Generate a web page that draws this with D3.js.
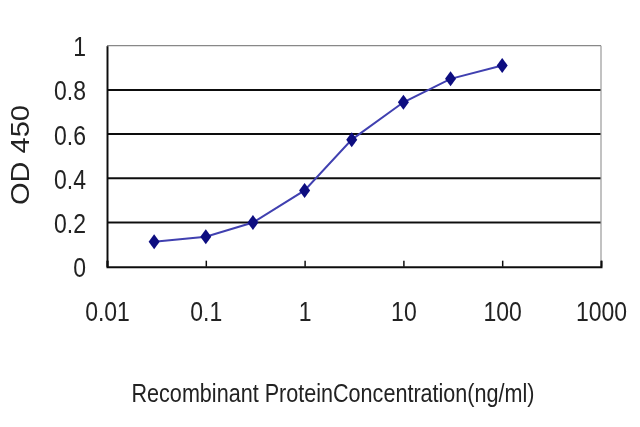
<!DOCTYPE html>
<head>
    <meta charset="utf-8">
    <script src="https://d3js.org/d3.v7.min.js"></script>
    <style>
        html, body { padding: 0; margin: 0; background: #fff; }
        svg { display: block; }
        text { font-family: "Liberation Sans", Arial, sans-serif; fill: #222; }
    </style>
</head>

<body>
<svg width="640" height="427"></svg>
<script>
    // data
    var concentrations = [0.03, 0.1, 0.3, 1, 3, 10, 30, 100];
    var odValues = [0.113, 0.136, 0.2, 0.345, 0.575, 0.744, 0.85, 0.91];
    var xTicks = [0.01, 0.1, 1, 10, 100, 1000];
    var xTickLabels = ["0.01", "0.1", "1", "10", "100", "1000"];
    var yTicks = [0, 0.2, 0.4, 0.6, 0.8, 1];
    var yTickLabels = ["0", "0.2", "0.4", "0.6", "0.8", "1"];

    var svg = d3.select("svg");

    // the scan is a little soft, so blur everything slightly
    svg.append("defs").append("filter")
        .attr("id", "soft")
        .append("feGaussianBlur")
        .attr("stdDeviation", 0.45);

    var g = svg.append("g").attr("filter", "url(#soft)");

    var x = d3.scaleLog()
        .domain([0.01, 1000])
        .range([107, 601]);

    var y = d3.scaleLinear()
        .domain([0, 1])
        .range([266.7, 45.7]);

    // horizontal gridlines
    g.append("g")
        .selectAll("line")
        .data(yTicks.slice(1))
        .enter()
        .append("line")
        .attr("x1", x(0.01))
        .attr("x2", x(1000))
        .attr("y1", function(d) { return y(d); })
        .attr("y2", function(d) { return y(d); })
        .attr("stroke", function(d) { return d === 1 ? "#888" : "#111"; })
        .attr("stroke-width", function(d) { return d === 1 ? 1.2 : 2; });

    // right border
    g.append("line")
        .attr("x1", x(1000)).attr("x2", x(1000))
        .attr("y1", y(1)).attr("y2", y(0))
        .attr("stroke", "#999")
        .attr("stroke-width", 1.2);

    // x axis
    var xAxis = d3.axisBottom(x)
        .tickValues(xTicks)
        .tickSize(-6)
        .tickFormat(function(d, i) { return xTickLabels[i]; });

    g.append("g")
        .attr("transform", "translate(0," + y(0) + ")")
        .call(xAxis)
        .call(function(a) {
            a.select(".domain").attr("stroke", "#111").attr("stroke-width", 2);
            a.selectAll(".tick line").attr("stroke", "#111").attr("stroke-width", 1.5);
            a.selectAll(".tick text")
                .attr("font-size", 23)
                .attr("y", 0)
                .attr("dy", "0.36em")
                .attr("transform", "translate(0,44.5) scale(1,1.2)")
                .style("font-family", "'Liberation Sans', Arial, sans-serif")
                .attr("fill", "#222");
        });

    // y axis
    var yAxis = d3.axisLeft(y)
        .tickValues(yTicks)
        .tickSize(0)
        .tickFormat(function(d, i) { return yTickLabels[i]; })
        .tickPadding(21);

    g.append("g")
        .attr("transform", "translate(" + x(0.01) + ",0)")
        .call(yAxis)
        .call(function(a) {
            a.select(".domain").attr("stroke", "#111").attr("stroke-width", 2);
            a.selectAll(".tick text")
                .attr("font-size", 23)
                .attr("dy", "0.36em")
                .attr("transform", "scale(1,1.2)")
                .style("font-family", "'Liberation Sans', Arial, sans-serif")
                .attr("fill", "#222");
        });

    // axis titles
    g.append("text")
        .attr("transform", "translate(29,155) rotate(-90)")
        .attr("text-anchor", "middle")
        .attr("font-size", 26)
        .attr("textLength", 100)
        .attr("lengthAdjust", "spacingAndGlyphs")
        .text("OD 450");

    g.append("text")
        .attr("transform", "translate(333,402) scale(1,1.2)")
        .attr("text-anchor", "middle")
        .attr("font-size", 21.5)
        .attr("textLength", 403)
        .attr("lengthAdjust", "spacingAndGlyphs")
        .text("Recombinant ProteinConcentration(ng/ml)");

    // data line
    var line = d3.line()
        .x(function(d) { return x(d[0]); })
        .y(function(d) { return y(d[1]); });

    var points = concentrations.map(function(c, i) { return [c, odValues[i]]; });

    g.append("path")
        .datum(points)
        .attr("fill", "none")
        .attr("stroke", "#4040b0")
        .attr("stroke-width", 2)
        .attr("d", line);

    // diamond markers
    g.append("g")
        .selectAll("path")
        .data(points)
        .enter()
        .append("path")
        .attr("transform", function(d) { return "translate(" + x(d[0]) + "," + y(d[1]) + ")"; })
        .attr("d", "M0,-7.5L5.5,0L0,7.5L-5.5,0Z")
        .attr("fill", "#0a0a80");
</script>
</body>
